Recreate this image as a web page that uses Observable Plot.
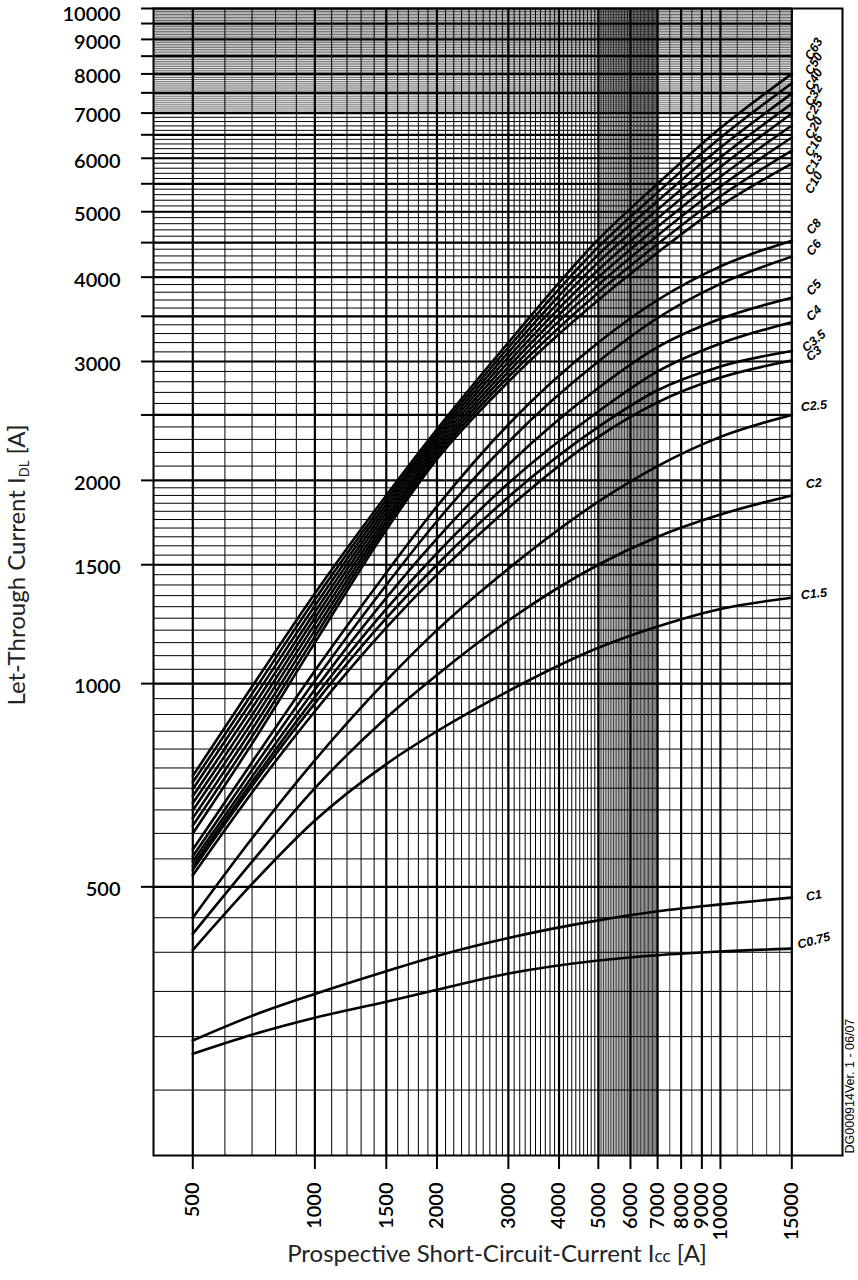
<!DOCTYPE html>
<html><head><meta charset="utf-8">
<script src="https://cdn.jsdelivr.net/npm/d3@7"></script>
<script src="https://cdn.jsdelivr.net/npm/@observablehq/plot@0.6"></script>
<style>
body{margin:0;background:#fff;}
#chart{width:858px;height:1280px;}
</style></head><body><div id="chart"></div>
<script>
// Tick labels
const xTickLabels = [500,1000,1500,2000,3000,4000,5000,6000,7000,8000,9000,10000,15000];
const yTickLabels = [500,1000,1500,2000,3000,4000,5000,6000,7000,8000,9000,10000];
const yExtraTicks = [2500,3500,4500,5500,6500,7500,8500,9500];

// Prospective short-circuit current (A) at which the curves are read
const currents = [500,700,1000,1500,2000,3000,5000,7000,10000,15000];

// Let-through current (A) per breaker rating
const C63  = [730,990,1360,1900,2380,3200,4550,5500,6650,8000];
const C50  = [714,966,1332,1872,2350,3147,4434,5341,6433,7750];
const C40  = [698,943,1304,1845,2320,3095,4321,5186,6223,7480];
const C32  = [681,920,1277,1818,2291,3044,4210,5036,6020,7230];
const C25  = [665,898,1251,1792,2262,2994,4103,4891,5824,6990];
const C20  = [649,877,1225,1765,2233,2944,3998,4749,5634,6710];
const C16  = [632,856,1199,1740,2205,2896,3896,4612,5450,6440];
const C13  = [616,835,1174,1715,2177,2848,3797,4479,5272,6160];
const C10  = [600,815,1150,1690,2150,2800,3700,4350,5100,5890];
const C8   = [568,765,1045,1460,1830,2420,3200,3700,4150,4530];
const C6   = [555,745,1010,1400,1740,2280,3000,3480,3910,4290];
const C5   = [545,728,980,1340,1640,2110,2740,3150,3470,3730];
const C4   = [537,715,955,1290,1560,1980,2530,2900,3190,3430];
const C3_5 = [530,705,935,1250,1500,1890,2400,2720,2950,3110];
const C3   = [520,690,910,1210,1450,1820,2320,2610,2840,3010];
const C2_5 = [450,590,770,1010,1200,1480,1860,2100,2320,2500];
const C2   = [426,545,700,890,1030,1240,1500,1650,1780,1900];
const C1_5 = [403,505,627,760,850,975,1130,1215,1290,1340];
const C1   = [296,322,347,375,395,420,446,460,471,482];
const C0_75= [283,302,320,338,352,372,389,396,401,405];

const seriesNames = ["C63","C50","C40","C32","C25","C20","C16","C13","C10","C8","C6","C5","C4","C3.5","C3","C2.5","C2","C1.5","C1","C0.75"];
const seriesValues = [C63,C50,C40,C32,C25,C20,C16,C13,C10,C8,C6,C5,C4,C3_5,C3,C2_5,C2,C1_5,C1,C0_75];

const rows = seriesNames.flatMap((name, k) => seriesValues[k].map((v, i) => ({name, x: currents[i], y: v})));
const ends = seriesNames.map((name, k) => ({name, k, x: currents[currents.length - 1], y: seriesValues[k][seriesValues[k].length - 1]}));

// grid line positions
const xMinorA = [...d3.range(600, 1000, 100), ...d3.range(1100, 5000, 100)];
const xMinorB = [...d3.range(5050, 7000, 50), 7500, 8500, 9500, 11000, 12000, 13000, 14000];
const yMinorA = [...d3.range(250, 2000, 50), ...d3.range(2100, 7000, 100)];
const yMinorB = d3.range(7050, 10000, 50);
const yMajor = [...yTickLabels, ...yExtraTicks];

// label styling (not data)
function labelStyle(d) {
  if (d.k <= 8) return {rotate: -60, dy: (d.k - 4) * 5.5 - 3};
  const map = {
    "C8": [-50, -14], "C6": [-52, -9], "C5": [-48, -10], "C4": [-45, -9],
    "C3.5": [-40, -10], "C3": [-40, -7], "C2.5": [-6, -9], "C2": [-6, -12],
    "C1.5": [-6, -4], "C1": [-10, -2], "C0.75": [-15, -8]
  };
  const m = map[d.name];
  return {rotate: m[0], dy: m[1]};
}

const labelMarks = ends.map(d => {
  const s = labelStyle(d);
  return Plot.text([d], {
    x: () => 17000, y: "y", text: "name",
    rotate: s.rotate, dy: s.dy, textAnchor: "middle",
    fontSize: 12.5, fontStyle: "italic", fontWeight: "bold",
    fontFamily: "Liberation Sans, Arial, sans-serif", fill: "#000"
  });
});

const tickFont = "Lato, 'DejaVu Sans', sans-serif";
const yLabelsTop = yTickLabels.filter(d => d === 10000);
const yLabelsRest = yTickLabels.filter(d => d !== 10000);

const plot = Plot.plot({
  width: 858,
  height: 1280,
  marginLeft: 153,
  marginRight: 16,
  marginTop: 8,
  marginBottom: 125,
  style: {fontFamily: tickFont, fontSize: "20px", background: "#fff", color: "#000"},
  x: {type: "log", domain: [400, 20000]},
  y: {type: "log", domain: [200, 10000]},
  marks: [
    Plot.ruleX(xMinorA, {y1: 200, y2: 10000, stroke: "#000", strokeWidth: 1}),
    Plot.ruleX(xMinorB, {y1: 200, y2: 10000, stroke: "#000", strokeWidth: 0.75}),
    Plot.ruleY(yMinorA, {x1: 400, x2: 15000, stroke: "#000", strokeWidth: 1}),
    Plot.ruleY(yMinorB, {x1: 400, x2: 15000, stroke: "#000", strokeWidth: 0.6}),
    Plot.ruleX(xTickLabels, {y1: 200, y2: 10000, stroke: "#000", strokeWidth: 2.2}),
    Plot.ruleY(yMajor, {x1: 400, x2: 15000, stroke: "#000", strokeWidth: 2.2}),
    Plot.line(rows, {x: "x", y: "y", z: "name", stroke: "#000", strokeWidth: 2.6, curve: "monotone-x"}),
    ...labelMarks,
    Plot.frame({stroke: "#000", strokeWidth: 2}),
    Plot.axisX({ticks: xTickLabels, tickFormat: () => "", tickSize: 14, strokeWidth: 2, label: null}),
    Plot.axisY({ticks: yMajor, tickFormat: () => "", tickSize: 12, strokeWidth: 2, label: null}),
    Plot.text(xTickLabels, {
      x: d => d, y: () => 200, text: d => String(d), rotate: -90,
      textAnchor: "end", dy: 27, fontSize: 20, fontWeight: 600, fontFamily: tickFont, fill: "#000"
    }),
    Plot.text(yLabelsRest, {
      x: () => 400, y: d => d, text: d => String(d),
      textAnchor: "end", dx: -33, dy: 3, fontSize: 20, fontWeight: 600, fontFamily: tickFont, fill: "#000"
    }),
    Plot.text(yLabelsTop, {
      x: () => 400, y: d => d, text: d => String(d),
      textAnchor: "end", dx: -33, dy: 6, fontSize: 20, fontWeight: 600, fontFamily: tickFont, fill: "#000"
    }),
    Plot.text(["DG000914Ver. 1 - 06/07"], {
      x: () => 20000, y: () => 200, text: d => d, rotate: -90,
      textAnchor: "start", dx: 7, dy: -2, fontSize: 12.5,
      fontFamily: "Liberation Sans, Arial, sans-serif", fill: "#000"
    })
  ]
});

document.getElementById("chart").appendChild(plot);

const svg = d3.select(plot);
// Y axis title
const yt = svg.append("text")
  .attr("transform", "translate(25,565) rotate(-90)")
  .attr("text-anchor", "middle")
  .attr("font-family", tickFont)
  .attr("font-size", 24)
  .attr("fill", "#222");
yt.append("tspan").text("Let-Through Current I");
yt.append("tspan").attr("font-size", 13).attr("dy", 4).text("DL");
yt.append("tspan").attr("dy", -4).text(" [A]");

// X axis title
const xt = svg.append("text")
  .attr("x", 497).attr("y", 1262)
  .attr("text-anchor", "middle")
  .attr("font-family", tickFont)
  .attr("font-size", 24)
  .attr("fill", "#222");
xt.append("tspan").text("Prospective Short-Circuit-Current I");
xt.append("tspan").attr("font-size", 17).text("cc");
xt.append("tspan").text(" [A]");
</script>
</body></html>
